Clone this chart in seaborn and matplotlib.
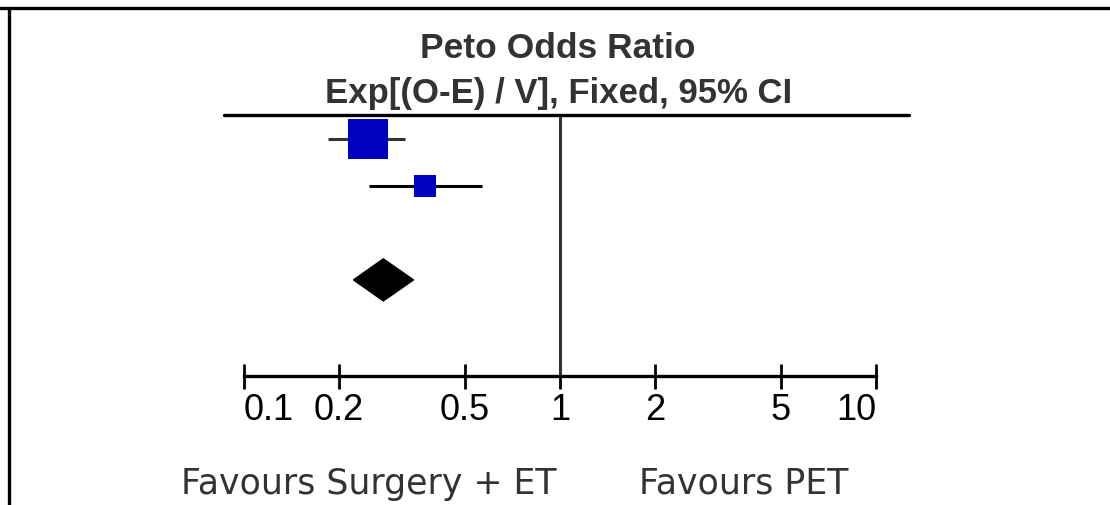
import matplotlib
matplotlib.use('Agg')
import matplotlib.pyplot as plt
import pandas as pd
import seaborn as sns
from matplotlib.lines import Line2D

# data
studies = ['Study 1', 'Study 2']
odds_ratio = [0.246, 0.375]
ci_low = [0.185, 0.248]
ci_high = [0.324, 0.567]
weight = [77, 23]
rows = [1, 2]

total_or = 0.276
total_low = 0.222
total_high = 0.344
total_row = 4

tick_values = [0.1, 0.2, 0.5, 1, 2, 5, 10]
tick_labels = ['0.1', '0.2', '0.5', '1', '2', '5', '10']

title_1 = 'Peto Odds Ratio'
title_2 = 'Exp[(O-E) / V], Fixed, 95% CI'
label_left = 'Favours Surgery + ET'
label_right = 'Favours PET'

df = pd.DataFrame({'study': studies, 'or': odds_ratio, 'lo': ci_low,
                   'hi': ci_high, 'weight': weight, 'row': rows})

sns.set_style('white')
plt.rcParams['font.family'] = ['Liberation Sans', 'DejaVu Sans']

W, H = 1110, 506
fig = plt.figure(figsize=(W / 100, H / 100), dpi=100)


def px(x, y):
    # pixel position -> figure fraction
    return x / W, 1 - y / H


ax = fig.add_axes([244 / W, 1 - 377 / H, 632 / W, 261 / H])
ax.set_xscale('log')
ax.set_xlim(0.1, 10)
ax.set_ylim(6.04, 0.5)

# confidence intervals
ax.hlines(df['row'], df['lo'], df['hi'], colors=['#333333', '#000000'], lw=2.2)

# study squares, area by weight
sns.scatterplot(data=df, x='or', y='row', size='weight', sizes=(250, 829),
                marker='s', color='#0000BF', edgecolor='none', linewidth=0,
                legend=False, ax=ax, zorder=3)

# pooled diamond
dh = 0.447
ax.fill([total_low, total_or, total_high, total_or],
        [total_row, total_row - dh, total_row, total_row + dh],
        color='black', zorder=3)

# line of no effect
ax.axvline(1, color='#333333', lw=2.2, zorder=1)

# axis styling
sns.despine(ax=ax, left=True, top=True, right=True)
ax.spines['bottom'].set_linewidth(2.4)
ax.spines['bottom'].set_color('black')
ax.set_yticks([])
ax.minorticks_off()
ax.set_xticks(tick_values)
ax.set_xticklabels(tick_labels)
ax.tick_params(axis='x', bottom=True, direction='inout', length=18, width=2.0,
               color='black', pad=2.5, labelsize=26, labelcolor='black')
labs = ax.get_xticklabels()
labs[0].set_horizontalalignment('left')
labs[-1].set_horizontalalignment('right')
ax.set_xlabel('')
ax.set_ylabel('')

# heading texts and rule
fig.text(*px(557.5, 58), title_1, ha='center', va='baseline', fontsize=25.5,
         fontweight='bold', color='#333333')
fig.text(*px(558.5, 103), title_2, ha='center', va='baseline', fontsize=25.0,
         fontweight='bold', color='#333333')
fig.add_artist(Line2D([224 / W, 909 / W], [1 - 116 / H, 1 - 116 / H],
                      color='black', lw=2.4))

# favours labels
fig.text(*px(369, 494), label_left, ha='center', va='baseline', fontsize=25,
         color='#333333', family=['DejaVu Sans'])
fig.text(*px(743.5, 494), label_right, ha='center', va='baseline', fontsize=25,
         color='#333333', family=['DejaVu Sans'])

# outer frame (top and left edges)
fig.add_artist(Line2D([0, 1], [1 - 9 / H, 1 - 9 / H], color='black', lw=2.4))
fig.add_artist(Line2D([9 / W, 9 / W], [0, 1 - 9 / H], color='black', lw=2.4))

fig.savefig('out.png', dpi=100)
